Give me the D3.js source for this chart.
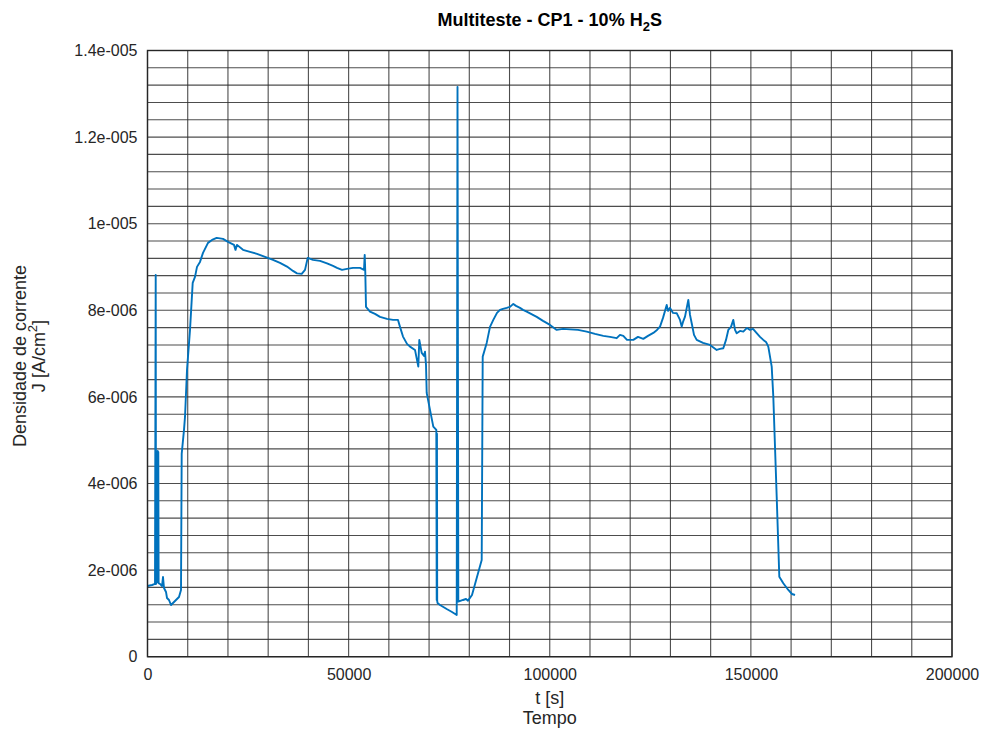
<!DOCTYPE html>
<html>
<head>
<meta charset="utf-8">
<script src="https://cdn.jsdelivr.net/npm/d3@7/dist/d3.min.js"></script>
<style>
  html, body { margin: 0; padding: 0; background: #fff; }
  svg { display: block; font-family: "Liberation Sans", Arial, Helvetica, sans-serif; }
</style>
</head>
<body>
<svg id="chart" width="982" height="731"></svg>
<script>
// Time stamps of the multitest run [s]
const timeSeconds = [
  0, 1120, 1865, 2040, 2113, 2486, 2536, 2610, 2685, 2760,
  3108, 3605, 3853, 4102, 4600, 4848, 5345, 5842, 6588, 7085,
  7831, 8328, 8502, 9074, 9323, 9820, 10566, 11237, 11809, 12306,
  13052, 13797, 15040, 16035, 17203, 18769, 20013, 21505, 21878, 22251,
  23742, 25482, 27223, 29212, 31200, 32940, 34680, 36172, 37166, 38335,
  39155, 39826, 41144, 42884, 44624, 46116, 47110, 48353, 49596, 51088,
  52829, 53823, 53997, 54146, 54320, 55314, 56557, 57800, 59540, 61032,
  62275, 62772, 63518, 64512, 65258, 66501, 67321, 67570, 68167, 68739,
  68988, 69236, 69410, 70231, 71051, 71800, 71896, 71960, 72020, 72094,
  72716, 74380, 75700, 76870, 77068, 77267, 78435, 79181, 79678, 80672,
  81841, 83084, 83333, 84327, 85147, 85967, 86887, 87633, 88379, 89299,
  90119, 90940, 91611, 92605, 93351, 94271, 95340, 96757, 98323, 100063,
  101729, 103295, 105035, 107024, 109187, 111250, 113313, 114979, 116644, 117464,
  118285, 119205, 120771, 121939, 123257, 124425, 125743, 126663, 127409, 128155,
  129075, 129398, 129895, 130641, 131561, 132382, 132804, 133128, 133625, 134445,
  134868, 135291, 135863, 136534, 138100, 139840, 141505, 142326, 143146, 143817,
  144389, 145060, 145632, 146054, 146477, 147297, 148118, 149038, 149784, 150530,
  151449, 152270, 153090, 153761, 154333, 155178, 155576, 156421, 157068, 158062,
  159305, 160225, 160971
];

// Current density J [A/cm^2]
const currentDensity = [
  1.633e-6, 1.656e-6, 1.680e-6, 8.818e-6, 1.680e-6, 1.770e-6, 4.752e-6, 1.726e-6, 4.729e-6, 1.700e-6,
  1.680e-6, 1.633e-6, 1.840e-6, 1.587e-6, 1.495e-6, 1.355e-6, 1.310e-6, 1.194e-6, 1.264e-6, 1.310e-6,
  1.379e-6, 1.541e-6, 4.683e-6, 5.237e-6, 5.537e-6, 6.623e-6, 7.547e-6, 8.633e-6, 8.772e-6, 9.003e-6,
  9.118e-6, 9.326e-6, 9.557e-6, 9.626e-6, 9.673e-6, 9.650e-6, 9.580e-6, 9.511e-6, 9.396e-6, 9.511e-6,
  9.396e-6, 9.349e-6, 9.303e-6, 9.234e-6, 9.165e-6, 9.095e-6, 9.010e-6, 8.910e-6, 8.853e-6, 8.841e-6,
  8.934e-6, 9.211e-6, 9.165e-6, 9.141e-6, 9.084e-6, 9.026e-6, 8.980e-6, 8.934e-6, 8.957e-6, 8.980e-6,
  8.980e-6, 8.934e-6, 9.280e-6, 8.864e-6, 8.079e-6, 7.970e-6, 7.917e-6, 7.848e-6, 7.801e-6, 7.778e-6,
  7.778e-6, 7.617e-6, 7.393e-6, 7.224e-6, 7.162e-6, 7.085e-6, 6.700e-6, 7.316e-6, 7.016e-6, 6.947e-6,
  7.046e-6, 6.739e-6, 6.092e-6, 5.699e-6, 5.313e-6, 5.237e-6, 1.310e-6, 5.150e-6, 1.290e-6, 1.241e-6,
  1.194e-6, 1.102e-6, 1.033e-6, 0.964e-6, 13.16e-6, 1.271e-6, 1.310e-6, 1.333e-6, 1.294e-6, 1.425e-6,
  1.818e-6, 2.234e-6, 6.930e-6, 7.247e-6, 7.617e-6, 7.778e-6, 7.940e-6, 8.010e-6, 8.033e-6, 8.056e-6,
  8.079e-6, 8.148e-6, 8.102e-6, 8.056e-6, 8.010e-6, 7.970e-6, 7.917e-6, 7.848e-6, 7.755e-6, 7.663e-6,
  7.547e-6, 7.570e-6, 7.559e-6, 7.547e-6, 7.508e-6, 7.455e-6, 7.409e-6, 7.386e-6, 7.356e-6, 7.432e-6,
  7.409e-6, 7.316e-6, 7.316e-6, 7.386e-6, 7.340e-6, 7.409e-6, 7.478e-6, 7.547e-6, 7.624e-6, 7.825e-6,
  8.125e-6, 7.987e-6, 8.056e-6, 7.940e-6, 7.933e-6, 7.778e-6, 7.624e-6, 7.732e-6, 7.855e-6, 8.241e-6,
  7.894e-6, 7.702e-6, 7.432e-6, 7.316e-6, 7.247e-6, 7.201e-6, 7.085e-6, 7.109e-6, 7.124e-6, 7.316e-6,
  7.547e-6, 7.617e-6, 7.778e-6, 7.547e-6, 7.471e-6, 7.524e-6, 7.508e-6, 7.593e-6, 7.547e-6, 7.570e-6,
  7.471e-6, 7.386e-6, 7.316e-6, 7.270e-6, 7.162e-6, 6.700e-6, 6.006e-6, 3.696e-6, 1.848e-6, 1.696e-6,
  1.541e-6, 1.448e-6, 1.425e-6
];

// Axis ticks and their printed labels
const xTickValues = [0, 50000, 100000, 150000, 200000];
const xTickLabels = ["0", "50000", "100000", "150000", "200000"];
const yTickValues = [0, 2e-6, 4e-6, 6e-6, 8e-6, 1e-5, 1.2e-5, 1.4e-5];
const yTickLabels = ["0", "2e-006", "4e-006", "6e-006", "8e-006", "1e-005", "1.2e-005", "1.4e-005"];
const xGridStep = 10000;
const yGridStep = 4e-7;

const svg = d3.select("#chart");
const plot = { left: 147.5, right: 952, top: 50.5, bottom: 656.7 };

const x = d3.scaleLinear().domain([0, 200000]).range([plot.left, plot.right]);
const y = d3.scaleLinear().domain([0, 1.4e-5]).range([plot.bottom, plot.top]);

const textColor = "#262626";
const gridColor = "#2e2e2e";
const tickFont = 16;
const labelFont = 18;

// Grid
const gridG = svg.append("g");
const xGrid = d3.range(0, 200000 + 1, xGridStep);
const yGrid = d3.range(0, 36).map(i => i * yGridStep);
gridG.selectAll("line.vx").data(xGrid).join("line")
  .attr("x1", d => x(d)).attr("x2", d => x(d))
  .attr("y1", plot.top).attr("y2", plot.bottom)
  .attr("stroke", gridColor).attr("stroke-width", 1.1).attr("stroke-opacity", 0.85);
gridG.selectAll("line.hy").data(yGrid).join("line")
  .attr("x1", plot.left).attr("x2", plot.right)
  .attr("y1", d => y(d)).attr("y2", d => y(d))
  .attr("stroke", gridColor).attr("stroke-width", 1.1).attr("stroke-opacity", 0.85);

// Data line
const points = timeSeconds.map((t, i) => [t, currentDensity[i]]);
const line = d3.line().x(d => x(d[0])).y(d => y(d[1]));
svg.append("path")
  .datum(points)
  .attr("d", line)
  .attr("fill", "none")
  .attr("stroke", "#0072bd")
  .attr("stroke-width", 1.9)
  .attr("stroke-linejoin", "round");

// Frame
svg.append("rect")
  .attr("x", plot.left).attr("y", plot.top)
  .attr("width", plot.right - plot.left).attr("height", plot.bottom - plot.top)
  .attr("fill", "none").attr("stroke", textColor).attr("stroke-width", 1.4);

// Axes
const xAxis = d3.axisBottom(x).tickValues(xTickValues)
  .tickFormat((d, i) => xTickLabels[i]).tickSize(0).tickPadding(12);
const gx = svg.append("g").attr("transform", `translate(0,${plot.bottom})`).call(xAxis);
gx.select(".domain").remove();
gx.selectAll("text").attr("fill", textColor).attr("font-size", tickFont)
  .attr("font-family", "Liberation Sans, Arial, sans-serif");

const yAxis = d3.axisLeft(y).tickValues(yTickValues)
  .tickFormat((d, i) => yTickLabels[i]).tickSize(0).tickPadding(10);
const gy = svg.append("g").attr("transform", `translate(${plot.left},0)`).call(yAxis);
gy.select(".domain").remove();
gy.selectAll("text").attr("fill", textColor).attr("font-size", tickFont)
  .attr("font-family", "Liberation Sans, Arial, sans-serif");

const cx = (plot.left + plot.right) / 2;

// Title with subscript
const title = svg.append("text")
  .attr("x", cx).attr("y", 26)
  .attr("text-anchor", "middle")
  .attr("font-size", 18).attr("font-weight", "bold").attr("fill", "#000");
title.append("tspan").text("Multiteste - CP1 - 10% H");
title.append("tspan").attr("font-size", 13).attr("dy", 5).text("2");
title.append("tspan").attr("dy", -5).text("S");

// X axis labels
svg.append("text").attr("x", cx).attr("y", 704)
  .attr("text-anchor", "middle").attr("font-size", labelFont).attr("fill", textColor).text("t [s]");
svg.append("text").attr("x", cx).attr("y", 724)
  .attr("text-anchor", "middle").attr("font-size", labelFont).attr("fill", textColor).text("Tempo");

// Y axis labels (rotated)
const ymid = 356;
svg.append("text")
  .attr("transform", `translate(26,${ymid}) rotate(-90)`)
  .attr("text-anchor", "middle").attr("font-size", labelFont).attr("fill", textColor)
  .text("Densidade de corrente");
const jl = svg.append("text")
  .attr("transform", `translate(45,${ymid}) rotate(-90)`)
  .attr("text-anchor", "middle").attr("font-size", labelFont).attr("fill", textColor);
jl.append("tspan").text("J [A/cm");
jl.append("tspan").attr("font-size", 13).attr("dy", -8).text("2");
jl.append("tspan").attr("dy", 8).text("]");
</script>
</body>
</html>
